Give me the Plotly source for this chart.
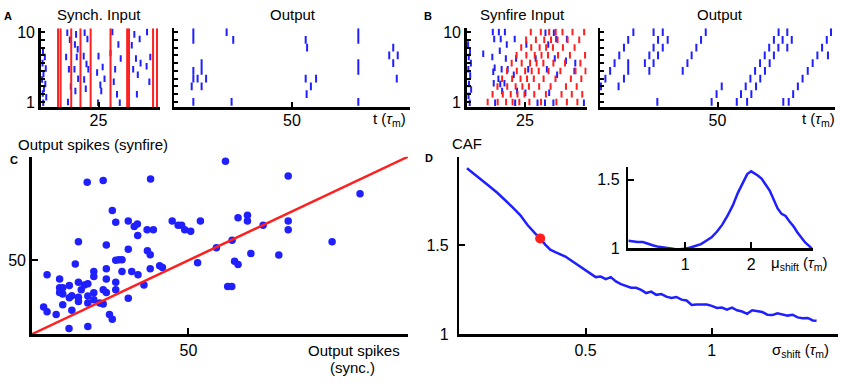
import plotly.graph_objects as go

W, H = 843, 388
FONT = "Liberation Sans, Arial, Helvetica, sans-serif"
BLUE = "#1f1fff"
RED = "#ff1f1f"

# ---------------- Panel A: synchronous input ----------------
a_sync_times = [7.5, 8.6, 13.2, 17.2, 21.6, 30.2, 37.4, 38.2, 48.6, 50.3]
a_in_t = [1.0, 1.8, 0.8, 2.2, 1.2, 0.6, 2.0, 1.4, 0.9, 2.4, 1.1,
          11.5, 12.6, 11.0, 12.2, 13.0, 11.8,
          15.3, 14.8, 16.0, 15.6, 14.6, 16.2, 15.0,
          19.0, 20.2, 18.6, 19.8, 20.6, 18.8, 19.5,
          25.0, 26.8, 24.4, 27.6, 25.8, 26.2, 24.8,
          31.0, 33.6, 30.2, 34.6, 32.2, 31.6, 33.0, 34.2,
          40.5, 42.8, 39.4, 41.2, 43.2, 40.0, 42.0, 41.6,
          46.0, 47.4, 45.8, 47.0]
a_in_row = [7.6, 6.8, 6.0, 5.3, 4.6, 3.9, 3.3, 2.7, 2.1, 1.6, 0.9,
            9.9, 9.0, 6.8, 5.2, 3.0, 1.0,
            9.7, 8.4, 7.8, 6.8, 5.2, 4.0, 2.4,
            9.9, 9.1, 6.9, 5.9, 5.2, 3.9, 2.7,
            6.9, 5.5, 4.8, 4.0, 3.2, 2.4, 0.9,
            10.0, 8.4, 7.3, 6.6, 5.2, 3.6, 2.0, 0.9,
            9.7, 9.1, 8.3, 6.6, 6.0, 5.2, 4.5, 2.0,
            10.0, 6.8, 5.6, 3.6]
a_out_t = [8.2, 8.2, 22.3, 25.1, 55.8, 56.4, 78.1, 78.1, 92.9, 91.2, 94.8, 92.9,
           11.7, 11.7, 8.2, 8.2, 10.0, 13.6, 7.5, 11.7, 78.1, 78.1, 55.8, 60.2,
           58.0, 56.2, 94.4, 8.2, 24.4, 78.1]
a_out_row = [10, 9, 10, 9, 9, 8, 10, 9, 8, 7, 7, 6,
             6, 5, 5, 4, 4, 4, 3, 3, 6, 5, 4, 4,
             3, 2, 4, 1, 1, 1]

# ---------------- Panel B: synfire input ----------------
b_in_blue_t = [0.6, 1.4, 0.9, 1.8, 0.7, 1.5, 1.0, 1.9, 0.8, 1.3, 7.1,
               11.2, 11.8, 11.0, 12.0, 11.4, 11.6, 12.2,
               13.8, 14.6, 14.2, 15.0, 13.6, 14.4, 15.2,
               16.4, 17.2, 16.8, 17.6, 16.2,
               20.6, 21.2, 20.2, 21.6, 20.8,
               25.6, 26.4, 25.2, 29.6, 30.4,
               33.8, 35.0, 34.4, 35.4, 33.6,
               37.4, 38.4, 37.8, 38.8, 37.2,
               43.0, 42.6, 46.6, 46.2, 50.3]
b_in_blue_row = [8.4, 7.6, 6.8, 6.0, 5.2, 4.4, 3.3, 2.6, 1.8, 0.9, 7.2,
                 10.0, 9.1, 6.8, 5.4, 4.9, 3.4, 0.9,
                 10.0, 9.1, 7.6, 5.2, 4.0, 3.3, 2.4,
                 10.0, 8.4, 6.6, 5.2, 3.4,
                 9.1, 6.6, 4.5, 2.4, 0.9,
                 8.4, 5.2, 2.2, 6.6, 0.9,
                 9.9, 8.4, 5.2, 2.2, 0.9,
                 9.9, 9.1, 6.6, 4.5, 0.9,
                 9.1, 6.3, 6.0, 5.0, 0.9]
b_in_red_t = [9.0, 13.3, 16.9, 19.7, 22.6, 26.9, 31.9, 38.5, 43.0, 47.5,
              11.1, 15.5, 18.9, 21.8, 24.8, 29.0, 34.0, 40.7, 45.1, 49.6,
              13.2, 17.4, 21.0, 23.9, 26.7, 31.1, 36.0, 42.6, 47.2,
              15.2, 19.5, 23.1, 25.9, 28.8, 33.0, 38.1, 44.7, 49.2,
              17.3, 21.5, 25.1, 27.9, 30.9, 35.1, 40.2, 46.7, 51.0,
              19.3, 23.6, 27.2, 30.0, 32.9, 37.2, 42.2, 48.8,
              21.4, 25.6, 29.2, 32.1, 34.9, 39.2, 44.3, 50.8,
              23.4, 27.7, 31.3, 34.1, 37.0, 41.3, 46.3,
              25.5, 29.7, 33.3, 36.2, 39.0, 43.3, 48.3,
              27.5, 31.8, 35.4, 38.2, 41.1, 45.4, 50.4]
b_in_red_row = [1] * 10 + [2] * 10 + [3] * 9 + [4] * 9 + [5] * 9 + [6] * 8 + [7] * 8 + [8] * 7 + [9] * 7 + [10] * 7
b_out_t = [0.4, 2.3, 4.3, 6.2, 8.2, 10.2, 12.0, 14.2,
           7.9, 10.2, 12.0, 12.0, 19.1, 21.0, 21.0, 22.8, 22.8, 22.8, 24.7, 24.7,
           26.7, 26.7, 28.8, 24.4,
           35.2, 37.2, 39.0, 41.0, 43.0, 45.0,
           47.5, 49.6, 51.8,
           58.2, 60.0, 62.0, 64.0, 66.0, 68.1, 70.1, 72.0, 74.0, 76.0,
           62.6, 64.4, 66.4, 68.2, 70.2, 72.2, 74.0, 75.9, 77.7, 79.7,
           78.0, 79.7, 81.6,
           80.3, 82.2, 84.2, 86.2, 88.4, 90.5, 92.5, 94.5, 96.5, 98.3, 97.0]
b_out_row = [3, 4, 5, 6, 7, 8, 9, 10,
             3, 4, 5, 6, 6, 7, 5, 10, 8, 6, 9, 7,
             10, 8, 9, 1,
             5, 6, 7, 8, 9, 10,
             1, 2, 3,
             1, 2, 3, 4, 5, 6, 7, 8, 9, 10,
             1, 2, 3, 4, 5, 6, 7, 8, 9, 10,
             1, 8, 9,
             1, 2, 3, 4, 5, 6, 7, 8, 9, 10, 7]

raster_ticks = [1, 2, 3, 4, 5, 6, 7, 8, 9, 10]
raster_ticktext = ["1", "", "", "", "", "", "", "", "", "10"]

# ---------------- Panel C ----------------
c_sync = [61.8, 17.7, 22.8, 37.9, 81.8, 104.7, 25.7, 26.8, 30.8, 32.7, 33.7, 33.8, 36.8, 38.8,
          44.8, 46.7, 47.8, 48.8, 50.7, 53.8, 65.8, 68.8, 68.8, 73.8, 81.8, 81.8, 63.9, 58.9,
          95.8, 14.9, 23.8, 30.8, 36.9, 37.8, 69.9, 78.8, 52.9, 64.7, 65.8, 26.8, 27.8, 28.8,
          13.9, 4.9, 8.9, 23.8, 19.8, 19.8, 28.8, 31.9, 33.9, 37.8, 40.8, 41.7, 23.8, 26.8,
          14.9, 17.9, 16.8, 35.8, 62.5, 63.8, 8.9, 9.9, 12.0, 8.9, 9.9, 15.8, 22.8, 26.8,
          23.8, 19.8, 17.9, 14.9, 12.8, 12.0, 14.9, 17.9, 19.8, 21.7, 22.8, 30.8, 9.9, 12.8,
          3.8, 4.9, 7.8, 24.8, 25.7, 11.9, 17.9]
c_synfire = [117.0, 102.8, 103.9, 105.0, 107.0, 95.0, 83.7, 75.7, 76.5, 72.8, 74.6, 66.7, 70.7, 70.7,
             76.5, 73.7, 73.7, 70.7, 69.6, 76.5, 78.7, 80.4, 76.5, 73.7, 76.5, 70.7, 63.5, 58.5,
             62.6, 62.6, 60.4, 57.4, 56.5, 53.7, 54.6, 53.5, 48.3, 49.3, 47.2, 50.0, 50.4, 50.4,
             47.4, 40.2, 37.4, 44.3, 42.4, 39.1, 42.4, 42.4, 40.2, 44.3, 46.3, 45.2, 37.4, 35.2,
             35.2, 34.1, 33.3, 33.3, 32.2, 32.2, 31.5, 31.5, 33.0, 28.3, 27.2, 30.0, 30.0, 30.0,
             28.3, 28.0, 25.9, 25.0, 26.1, 24.6, 22.2, 21.1, 23.3, 21.1, 20.4, 24.3, 20.0, 16.3,
             18.5, 15.2, 13.3, 13.3, 10.2, 3.9, 5.2]
c_diag = [0, 120]

# ---------------- Panel D ----------------
d_sigma = [0.03, 0.06, 0.09, 0.12, 0.15, 0.18, 0.21, 0.24, 0.27, 0.30, 0.32, 0.34, 0.36, 0.38,
           0.40, 0.42, 0.44, 0.46, 0.48, 0.50, 0.52, 0.54, 0.56, 0.58, 0.60, 0.62, 0.64, 0.66,
           0.68, 0.70, 0.72, 0.74, 0.76, 0.78, 0.80, 0.82, 0.84, 0.86, 0.88, 0.90, 0.92, 0.94,
           0.96, 0.98, 1.00, 1.02, 1.04, 1.06, 1.08, 1.10, 1.12, 1.14, 1.16, 1.18, 1.20, 1.22,
           1.24, 1.26, 1.28, 1.30, 1.32, 1.34, 1.36, 1.38, 1.40, 1.415]
d_caf = [1.935, 1.902, 1.867, 1.832, 1.797, 1.758, 1.716, 1.673, 1.615, 1.568, 1.540, 1.505,
         1.476, 1.462, 1.450, 1.438, 1.418, 1.398, 1.380, 1.362, 1.338, 1.322, 1.325, 1.310,
         1.322, 1.298, 1.282, 1.272, 1.262, 1.262, 1.250, 1.232, 1.240, 1.222, 1.226, 1.212,
         1.205, 1.210, 1.195, 1.190, 1.165, 1.168, 1.170, 1.168, 1.160, 1.148, 1.150, 1.138,
         1.150, 1.135, 1.128, 1.115, 1.135, 1.128, 1.125, 1.110, 1.108, 1.118, 1.112, 1.105,
         1.110, 1.095, 1.090, 1.092, 1.078, 1.076]
d_mark_sigma = [0.32]
d_mark_caf = [1.54]
inset_mu = [0.14, 0.20, 0.28, 0.36, 0.44, 0.52, 0.60, 0.68, 0.76, 0.84, 0.92, 1.00, 1.08, 1.16,
            1.24, 1.32, 1.40, 1.48, 1.56, 1.64, 1.72, 1.80, 1.88, 1.94, 2.00, 2.05, 2.10, 2.16,
            2.22, 2.28, 2.34, 2.40, 2.46, 2.52, 2.58, 2.64, 2.70, 2.76, 2.82, 2.88, 2.94]
inset_caf = [1.055, 1.050, 1.045, 1.045, 1.030, 1.020, 1.010, 1.003, 0.996, 0.995, 0.993, 0.996,
             1.005, 1.015, 1.030, 1.055, 1.080, 1.120, 1.170, 1.235, 1.310, 1.405, 1.480, 1.540,
             1.560, 1.548, 1.530, 1.505, 1.465, 1.420, 1.355, 1.290, 1.250, 1.235, 1.195, 1.160,
             1.115, 1.075, 1.040, 1.015, 0.985]


def bars(ts, rows, h):
    xs, ys = [], []
    for t, r in zip(ts, rows):
        xs += [t, t, None]
        ys += [r - h, r + h, None]
    return xs, ys


def vlines(ts, y0, y1):
    xs, ys = [], []
    for t in ts:
        xs += [t, t, None]
        ys += [y0, y1, None]
    return xs, ys


fig = go.Figure()

def add_bars(xs, ys, color, width, xa, ya):
    fig.add_trace(go.Scatter(x=xs, y=ys, mode="lines", line=dict(color=color, width=width),
                             xaxis=xa, yaxis=ya, hoverinfo="skip", showlegend=False))

ROW_LO, ROW_HI = 0.3, 10.5
x, y = bars(a_in_t, a_in_row, 0.42); add_bars(x, y, BLUE, 2, "x", "y")
x, y = vlines(a_sync_times, ROW_LO, ROW_HI); add_bars(x, y, RED, 2, "x", "y")
x, y = bars(a_out_t, a_out_row, 0.5); add_bars(x, y, BLUE, 2, "x2", "y2")
x, y = bars(b_in_blue_t, b_in_blue_row, 0.42); add_bars(x, y, BLUE, 2, "x3", "y3")
x, y = bars(b_in_red_t, b_in_red_row, 0.42); add_bars(x, y, RED, 2, "x3", "y3")
x, y = bars(b_out_t, b_out_row, 0.5); add_bars(x, y, BLUE, 2, "x4", "y4")

fig.add_trace(go.Scatter(x=c_sync, y=c_synfire, mode="markers", marker=dict(color=BLUE, size=7.5),
                         xaxis="x5", yaxis="y5", showlegend=False))
fig.add_trace(go.Scatter(x=c_diag, y=c_diag, mode="lines", line=dict(color=RED, width=2.5),
                         xaxis="x5", yaxis="y5", showlegend=False))

fig.add_trace(go.Scatter(x=d_sigma, y=d_caf, mode="lines", line=dict(color=BLUE, width=2.5),
                         xaxis="x6", yaxis="y6", showlegend=False))
fig.add_trace(go.Scatter(x=d_mark_sigma, y=d_mark_caf, mode="markers", marker=dict(color=RED, size=10),
                         xaxis="x6", yaxis="y6", showlegend=False))
fig.add_trace(go.Scatter(x=inset_mu, y=inset_caf, mode="lines", line=dict(color=BLUE, width=2.5),
                         xaxis="x7", yaxis="y7", showlegend=False))


def dx(a, b):
    return [a / W, b / W]


def dy(top, bottom):
    return [1 - bottom / H, 1 - top / H]


def ax(domain, rng, anchor, tickvals, ticktext=None, ticklen=4, showlabels=True, standoff=None):
    d = dict(domain=domain, range=rng, anchor=anchor, showline=True, linecolor="black", linewidth=2.5,
             ticks="inside", ticklen=ticklen, tickwidth=2, tickcolor="black", showgrid=False,
             zeroline=False, tickvals=tickvals, showticklabels=showlabels, fixedrange=True,
             tickfont=dict(family=FONT, size=16, color="black"))
    if ticktext is not None:
        d["ticktext"] = ticktext
    if standoff is not None:
        d["ticklabelstandoff"] = standoff
    return d


RY = dy(25, 107)
fig.update_layout(
    width=W, height=H, margin=dict(l=0, r=0, t=0, b=0),
    paper_bgcolor="white", plot_bgcolor="rgba(0,0,0,0)", showlegend=False,
    font=dict(family=FONT, size=15, color="black"),
    xaxis=ax(dx(40.7, 160), [0, 51.6], "y", [25], ["25"], ticklen=5, standoff=-3),
    yaxis=ax(RY, [ROW_LO, ROW_HI], "x", raster_ticks, raster_ticktext),
    xaxis2=ax(dx(174, 410), [0, 100], "y2", [50], ["50"], ticklen=5, standoff=-3),
    yaxis2=ax(RY, [ROW_LO, ROW_HI], "x2", raster_ticks, showlabels=False),
    xaxis3=ax(dx(466.7, 586.7), [0, 51.5], "y3", [25], ["25"], ticklen=5, standoff=-3),
    yaxis3=ax(RY, [ROW_LO, ROW_HI], "x3", raster_ticks, raster_ticktext),
    xaxis4=ax(dx(600, 835), [0, 100], "y4", [50], ["50"], ticklen=5, standoff=-3),
    yaxis4=ax(RY, [ROW_LO, ROW_HI], "x4", raster_ticks, showlabels=False),
    xaxis5=ax(dx(31.7, 408), [0, 120], "y5", [50], ["50"], ticklen=6),
    yaxis5=ax(dy(158, 341.7), [0, 120], "x5", [50], ["50"], ticklen=6),
    xaxis6=ax(dx(459.4, 838), [0, 1.5], "y6", [0.5, 1], ["0.5", "1"], ticklen=6),
    yaxis6=ax(dy(158, 341.7), [1, 2], "x6", [1, 1.5], ["1", "1.5"], ticklen=6, standoff=5),
    xaxis7=ax(dx(628.3, 813.3), [0.14, 2.94], "y7", [1, 2], ["1", "2"], ticklen=6),
    yaxis7=ax(dy(168.3, 252.7), [1, 1.594], "x7", [1, 1.5], ["1", "1.5"], ticklen=6, standoff=3),
)


def ann(text, px, py, xanchor="center", yanchor="middle", size=15, bold=False):
    if bold:
        text = "<b>" + text + "</b>"
    fig.add_annotation(text=text, x=px / W, y=1 - py / H, xref="paper", yref="paper",
                       xanchor=xanchor, yanchor=yanchor, showarrow=False,
                       font=dict(family=FONT, size=size, color="black"))


TAU = "(<i>τ</i><sub>m</sub>)"
ann("A", 8, 12.5, size=11, bold=True)
ann("Synch. Input", 99, 11)
ann("Output", 293, 11)
ann("t " + TAU, 408, 119, xanchor="right")
ann("B", 428, 12.5, size=11, bold=True)
ann("Synfire Input", 522, 11)
ann("Output", 720, 11)
ann("t " + TAU, 837, 119, xanchor="right")
ann("Output spikes (synfire)", 16, 145, xanchor="left")
ann("C", 14, 161, size=11, bold=True)
ann("Output spikes", 402, 358, xanchor="right")
ann("(sync.)", 352, 376)
ann("CAF", 467, 144)
ann("D", 429, 159, size=11, bold=True)
ann("σ<sub>shift</sub> " + TAU, 831, 359, xanchor="right")
ann("μ<sub>shift</sub> " + TAU, 829, 269, xanchor="right")

fig.write_html("out.html", config={"displayModeBar": False, "staticPlot": True},
               post_script="document.body.style.margin='0px';document.body.style.padding='0px';"
                           "document.body.style.overflow='hidden';")
